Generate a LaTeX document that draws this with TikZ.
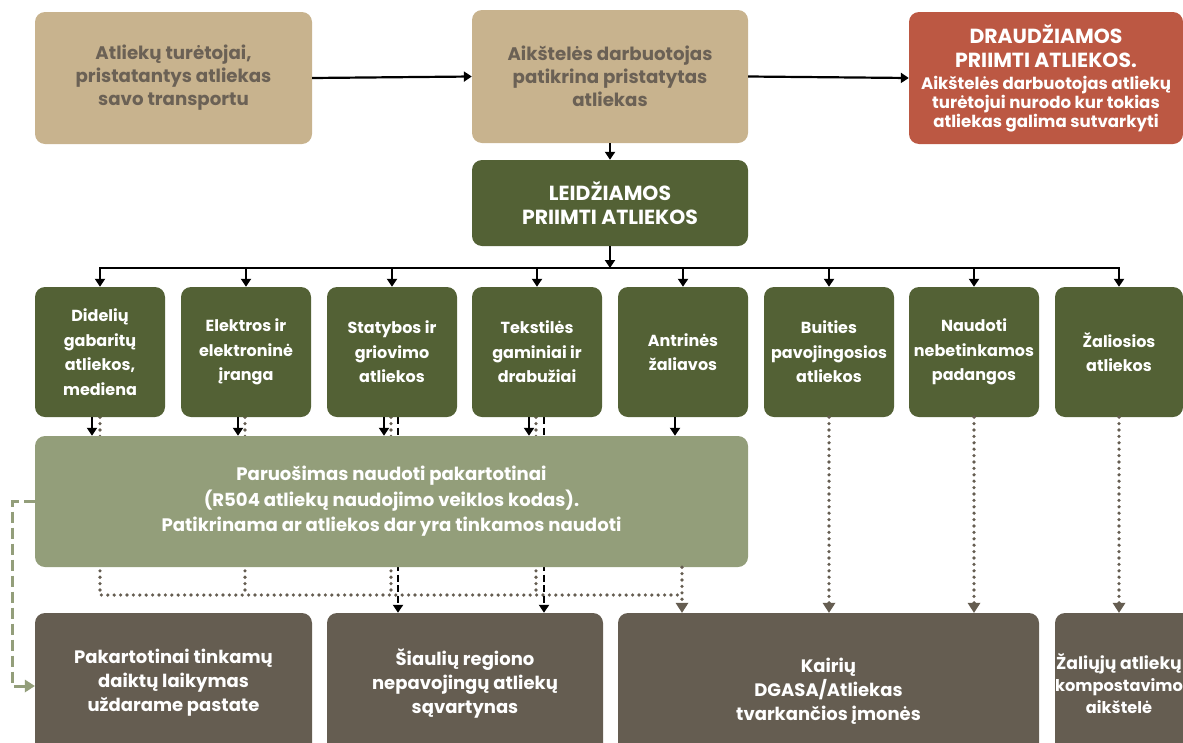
\documentclass[tikz,border=0pt]{standalone}
\usepackage{fontspec}
\setmainfont{Poppins}
\usetikzlibrary{arrows.meta}
\definecolor{tan}{HTML}{C8B38E}
\definecolor{tantext}{HTML}{6B6155}
\definecolor{redbox}{HTML}{BC5843}
\definecolor{dkgreen}{HTML}{536135}
\definecolor{ltgreen}{HTML}{939E7A}
\definecolor{brownbox}{HTML}{655D51}
\pgfdeclarelayer{bg}
\pgfsetlayers{bg,main}
\newcommand{\subf}{\fontsize{16.6}{19.5}\selectfont}
\newcommand{\smf}{\fontsize{16.2}{22}\selectfont}
\tikzset{
  box/.style={rectangle, rounded corners=10pt, draw=none, align=center, inner sep=0pt},
  topbox/.style={box, fill=tan, text=tantext, minimum width=277pt, minimum height=132pt, font=\bfseries\fontsize{18.2}{23}\selectfont},
  catbox/.style={box, fill=dkgreen, text=white, minimum width=130pt, minimum height=130pt, font=\bfseries\fontsize{16}{24.5}\selectfont},
  botbox/.style={box, fill=brownbox, text=white, minimum height=140pt, font=\bfseries\fontsize{18}{24}\selectfont},
  arr/.style={draw=black, line width=2.2pt, -{Triangle[width=10pt,length=8pt]}},
  dsh/.style={draw=black, line width=2.2pt, dash pattern=on 7pt off 3.5pt, -{Triangle[width=10pt,length=8pt]}},
  dotl/.style={draw=brownbox, line width=3.6pt, line cap=round, dash pattern=on 0pt off 6.4pt},
  dotarr/.style={dotl, -{Triangle[width=13pt,length=10pt,fill=brownbox,line width=0pt]}},
  gdash/.style={draw=ltgreen, line width=3pt, dash pattern=on 11pt off 5pt, -{Triangle[width=13pt,length=10pt,line width=0pt]}}
}
\begin{document}
\begin{tikzpicture}[x=1pt,y=-1pt]
\useasboundingbox (0,0) rectangle (1183,742);
\clip (0,0) rectangle (1183,742);
% top row
\node[topbox] (h1) at (173.5,78) {Atliekų turėtojai,\\pristatantys atliekas\\savo transportu};
\node[topbox, minimum width=276pt, minimum height=133pt] (h2) at (610,76.5) {Aikštelės darbuotojas\\patikrina pristatytas\\atliekas};
\node[box, fill=redbox, text=white, minimum width=274pt, minimum height=132pt, font=\bfseries\fontsize{20.4}{24}\selectfont] (red) at (1046,78)
  {DRAUDŽIAMOS\\PRIIMTI ATLIEKOS.\\[-2pt]
   \subf Aikštelės darbuotojas atliekų\\[-5pt]\subf turėtojui nurodo kur tokias\\[-5pt]\subf atliekas galima sutvarkyti};
\node[box, fill=dkgreen, text=white, minimum width=276pt, minimum height=86pt, font=\bfseries\fontsize{20.4}{24}\selectfont] (leid) at (610,203) {LEIDŽIAMOS\\PRIIMTI ATLIEKOS};
% categories
\node[catbox] (c1) at (100,352) {Didelių\\gabaritų\\atliekos,\\mediena};
\node[catbox] (c2) at (246,352) {Elektros ir\\elektroninė\\įranga};
\node[catbox] (c3) at (392,352) {Statybos ir\\griovimo\\atliekos};
\node[catbox] (c4) at (537,352) {Tekstilės\\gaminiai ir\\drabužiai};
\node[catbox] (c5) at (683,352) {Antrinės\\žaliavos};
\node[catbox] (c6) at (829,352) {Buities\\pavojingosios\\atliekos};
\node[catbox] (c7) at (974,352) {Naudoti\\nebetinkamos\\padangos};
\node[catbox, minimum width=128pt] (c8) at (1119,352) {Žaliosios\\atliekos};
% preparation box
\node[box, fill=ltgreen, text=white, minimum width=713pt, minimum height=131pt, font=\bfseries\fontsize{18.1}{25.5}\selectfont] (prep) at (391.5,501.5)
  {Paruošimas naudoti pakartotinai\\(R504 atliekų naudojimo veiklos kodas).\\Patikrinama ar atliekos dar yra tinkamos naudoti};
% bottom row
\node[botbox, minimum width=277pt] (A) at (173.5,683) {Pakartotinai tinkamų\\daiktų laikymas\\uždarame pastate};
\node[botbox, minimum width=276pt] (B) at (465,683) {Šiaulių regiono\\nepavojingų atliekų\\sąvartynas};
\node[botbox, minimum width=421pt] (C) at (828.5,683) {};
\node[box, text=white, font=\bfseries\fontsize{18}{24}\selectfont] (Ctext) at ([yshift=-8pt]C.center) {Kairių\\DGASA/Atliekas\\tvarkančios įmonės};
\node[botbox, minimum width=150pt] (D) at (1130,683) {};
\node[box, text=white, font=\bfseries\fontsize{17.2}{22}\selectfont] (Dtext) at (1119,683) {Žaliųjų atliekų\\\smf kompostavimo\\\smf aikštelė};
% top connectors
\draw[arr] (h1.east) -- (h2.west);
\draw[arr] (h2.east) -- (red.west);
\draw[arr] (h2.south) -- (leid.north);
\coordinate (bus) at (610,268);
\draw[arr] (leid.south) -- (bus);
\foreach \c in {c1,c2,c3,c4,c5,c6,c7,c8}{
  \draw[arr] (bus) -| (\c.north);
}
% category -> preparation (solid)
\foreach \c in {c1,c2,c3,c4,c5}{
  \draw[arr] ([xshift=-8pt]\c.south) -- ([xshift=-8pt]\c.south |- prep.north);
}
\coordinate (jy) at (0,595);
\begin{pgfonlayer}{bg}
  \draw[dotl] (c1.south) -- (c1.south |- jy) -- ([xshift=-1pt]c5.south |- jy);
  \foreach \c in {c2,c3,c4}{
    \draw[dotl] ([xshift=-1pt]\c.south) -- ([xshift=-1pt]\c.south |- jy);
  }
  \draw[dsh] ([xshift=6pt]c3.south) -- ([xshift=6pt]c3.south |- B.north);
  \draw[dsh] ([xshift=7pt]c4.south) -- ([xshift=7pt]c4.south |- B.north);
\end{pgfonlayer}
\draw[dotarr] ([xshift=-1pt]c5.south |- prep.south) -- ([xshift=-1pt]c5.south |- C.north);
\draw[dotarr] (c6.south) -- (c6.south |- C.north);
\draw[dotarr] (c7.south) -- (c7.south |- C.north);
\draw[dotarr] (c8.south) -- (c8.south |- D.north);
% left green dashed
\draw[gdash] (prep.west) -- ++(-22,0) |- ([yshift=-3pt]A.west);
\end{tikzpicture}
\end{document}
